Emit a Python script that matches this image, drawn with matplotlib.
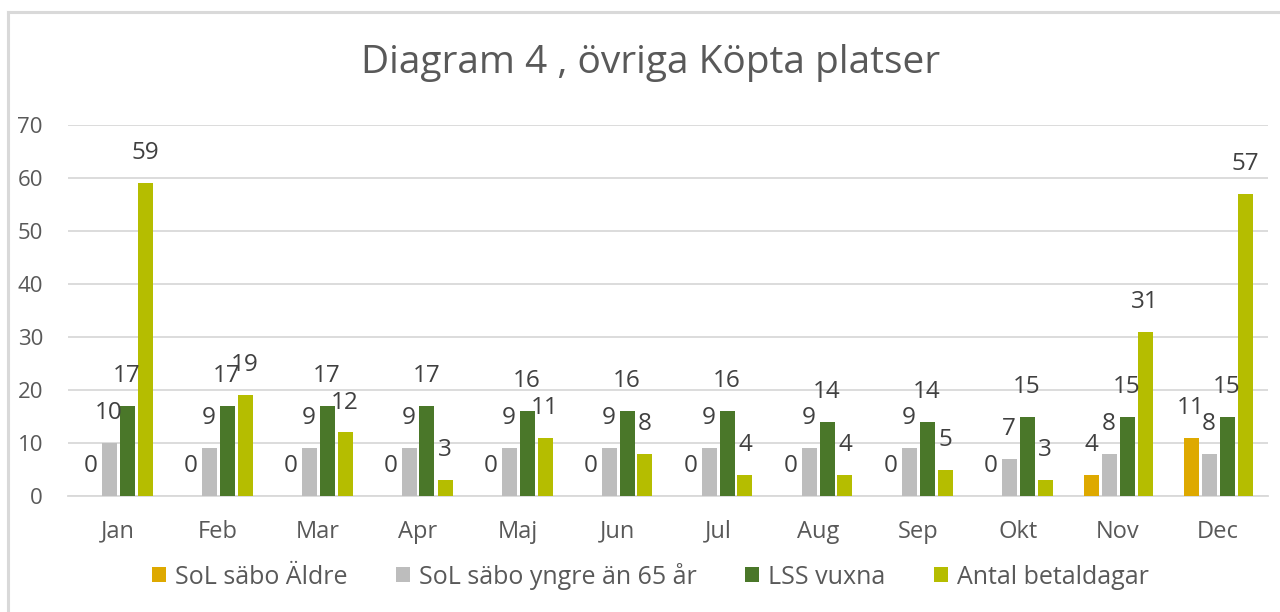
"""Grouped bar chart: Diagram 4, övriga Köpta platser."""

import numpy as np
import matplotlib
matplotlib.use("Agg")
import matplotlib.pyplot as plt
from matplotlib.patches import Patch
from matplotlib.lines import Line2D

# Data
months = ["Jan", "Feb", "Mar", "Apr", "Maj", "Jun",
          "Jul", "Aug", "Sep", "Okt", "Nov", "Dec"]
sol_aldre = [0, 0, 0, 0, 0, 0, 0, 0, 0, 0, 4, 11]
sol_yngre = [10, 9, 9, 9, 9, 9, 9, 9, 9, 7, 8, 8]
lss_vuxna = [17, 17, 17, 17, 16, 16, 16, 14, 14, 15, 15, 15]
betaldagar = [59, 19, 12, 3, 11, 8, 4, 4, 5, 3, 31, 57]

series_names = ["SoL säbo Äldre", "SoL säbo yngre än 65 år",
                "LSS vuxna", "Antal betaldagar"]
series_values = [sol_aldre, sol_yngre, lss_vuxna, betaldagar]
colors = ["#DEA900", "#BDBDBD", "#4A7729", "#B5BD00"]

TEXT_FONT = ["Open Sans", "DejaVu Sans"]
LABEL_COLOR = "#404040"
TICK_COLOR = "#595959"
GRID_COLOR = "#D9D9D9"

plt.rcParams["font.family"] = TEXT_FONT

fig = plt.figure(figsize=(12.8, 6.12), dpi=100)
ax = fig.add_axes([68 / 1280, 1 - 496 / 612, 1200 / 1280, 371 / 612])

x = np.arange(len(months))
stride = 0.18
width = 0.15
offsets = (np.arange(len(series_values)) - 1.5) * stride

for vals, off, col, name in zip(series_values, offsets, colors, series_names):
    bars = ax.bar(x + off, vals, width=width, color=col, label=name, zorder=3)
    for rect, v in zip(bars, vals):
        ax.annotate(
            f"{v}",
            xy=(rect.get_x() + rect.get_width() / 2, rect.get_height()),
            xytext=(0, 21.5),
            textcoords="offset points",
            ha="center",
            va="center",
            fontsize=17.5,
            color=LABEL_COLOR,
            zorder=4,
        )

ax.set_xlim(-0.5, len(months) - 0.5)
ax.set_ylim(0, 70)
ax.set_yticks(np.arange(0, 71, 10))
ax.set_xticks(x)
ax.set_xticklabels(months, fontsize=17)
ax.yaxis.grid(True, color=GRID_COLOR, linewidth=1.3, zorder=0)
ax.set_axisbelow(True)
for side in ["top", "right", "left"]:
    ax.spines[side].set_visible(False)
ax.spines["bottom"].set_color(GRID_COLOR)
ax.spines["bottom"].set_linewidth(1.3)
ax.tick_params(axis="both", length=0, labelcolor=TICK_COLOR)
ax.tick_params(axis="y", pad=18, labelsize=16)
ax.tick_params(axis="x", pad=17)

fig.text(0.508, 1 - 63 / 612, "Diagram 4 , övriga Köpta platser",
         ha="center", va="center", fontsize=28, color=TICK_COLOR)

handles = [Patch(facecolor=c, edgecolor="none") for c in colors]
fig.legend(handles, series_names, loc="center", bbox_to_anchor=(0.508, 1 - 576 / 612),
           ncol=4, frameon=False, handlelength=0.56, handleheight=0.56,
           handletextpad=0.35, columnspacing=1.95, labelcolor=TICK_COLOR,
           prop={"size": 18})

# light frame around the chart area
fig.add_artist(Line2D([7.5 / 1280, 7.5 / 1280], [0, 1 - 11.5 / 612],
                      transform=fig.transFigure, color=GRID_COLOR, linewidth=2.2))
fig.add_artist(Line2D([7.5 / 1280, 1], [1 - 11.5 / 612, 1 - 11.5 / 612],
                      transform=fig.transFigure, color=GRID_COLOR, linewidth=2.2))

fig.savefig("out.png", dpi=100, facecolor="white")
